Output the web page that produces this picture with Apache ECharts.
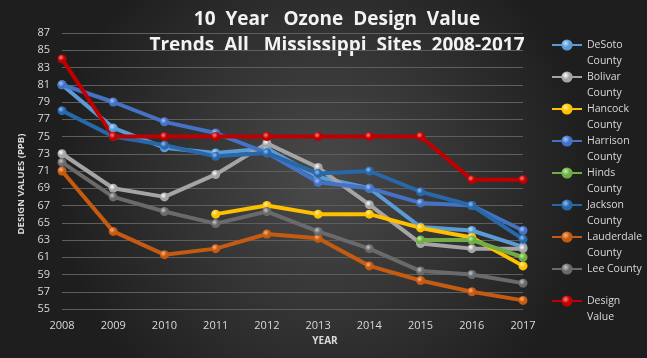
<!DOCTYPE html>
<html>
<head>
<meta charset="utf-8">
<script src="https://cdn.jsdelivr.net/npm/echarts@6/dist/echarts.min.js"></script>
<style>
html,body{margin:0;padding:0;background:#2a2a2a;}
#c{width:647px;height:358px;}
</style>
</head>
<body>
<div id="c"></div>
<script>
const years = ['2008','2009','2010','2011','2012','2013','2014','2015','2016','2017'];
const desoto     = [81, 76, 73.7, 73.1, 73.6, 70.3, 69, 64.5, 64.1, 62.2];
const bolivar    = [73, 69, 68, 70.6, 74.2, 71.4, 67.1, 62.6, 62, 62];
const hancock    = [null, null, null, 66, 67, 66, 66, 64.4, 63.3, 60];
const harrison   = [81, 79, 76.7, 75.4, 73.1, 69.7, 69, 67.3, 67, 64.1];
const hinds      = [null, null, null, null, null, null, null, 63, 63, 61];
const jackson    = [78, 75, 74, 72.7, 73.1, 70.7, 71, 68.6, 67, 63.1];
const lauderdale = [71, 64, 61.3, 62, 63.7, 63.2, 60, 58.3, 57, 56];
const lee        = [72, 68, 66.3, 64.9, 66.3, 64, 62, 59.4, 59, 58];
const designValue= [84, 75, 75, 75, 75, 75, 75, 75, 70, 70];

const seriesDefs = [
  {name:'DeSoto County', data:desoto, color:'#5b9bd5', hi:'#bfe0ff'},
  {name:'Bolivar County', data:bolivar, color:'#a5a5a5', hi:'#ffffff'},
  {name:'Hancock County', data:hancock, color:'#ffc000', hi:'#fff3a0'},
  {name:'Harrison County', data:harrison, color:'#4472c4', hi:'#a9c4ff'},
  {name:'Hinds County', data:hinds, color:'#70ad47', hi:'#c4f0a4'},
  {name:'Jackson County', data:jackson, color:'#2867a8', hi:'#8fbfff'},
  {name:'Lauderdale County', data:lauderdale, color:'#c55a11', hi:'#ffb37a'},
  {name:'Lee County', data:lee, color:'#6a6a6a', hi:'#c8c8c8'},
  {name:'Design Value', data:designValue, color:'#c00000', hi:'#ff8080'}
];
const legendLabels = {
  'DeSoto County':'\nDeSoto\nCounty',
  'Bolivar County':'\nBolivar\nCounty',
  'Hancock County':'\nHancock\nCounty',
  'Harrison County':'\nHarrison\nCounty',
  'Hinds County':'\nHinds\nCounty',
  'Jackson County':'\nJackson\nCounty',
  'Lauderdale County':'\nLauderdale\nCounty',
  'Lee County':'\nLee County\n ',
  'Design Value':'\nDesign\nValue'
};

const FONT = '"Open Sans", "Noto Sans", sans-serif';

const chart = echarts.init(document.getElementById('c'), null, {renderer:'canvas'});
chart.setOption({
  animation:false,
  backgroundColor:{
    type:'radial', x:0.5, y:0.5, r:0.75,
    colorStops:[{offset:0,color:'#4a4a4a'},{offset:1,color:'#1e1e1e'}]
  },
  grid:{left:62, right:124, top:33, bottom:49, containLabel:false},
  graphic:[
    {type:'text', style:{text:'10  Year   Ozone  Design  Value', fill:'#f2f2f2', font:'bold 19px '+FONT, align:'center', verticalAlign:'middle'}, position:[337,20]},
    {type:'text', style:{text:'Trends  All   Mississippi  Sites  2008-2017', fill:'#f2f2f2', font:'bold 19px '+FONT, align:'center', verticalAlign:'middle'}, position:[337,46]},
    {type:'text', style:{text:'YEAR', fill:'#d9d9d9', font:'bold 10px '+FONT, align:'center', verticalAlign:'middle'}, position:[325,341]},
    {type:'text', rotation:Math.PI/2, style:{text:'DESIGN VALUES (PPB)', fill:'#d9d9d9', font:'bold 9.5px '+FONT, align:'center', verticalAlign:'middle'}, position:[21,184]}
  ],
  legend:{
    orient:'vertical', left:551, top:21, padding:0,
    itemWidth:30, itemHeight:14, itemGap:-16,
    data: seriesDefs.map(s=>s.name),
    formatter: n => legendLabels[n],
    textStyle:{color:'#d9d9d9', fontSize:10.5, lineHeight:16, fontFamily:FONT},
    selectedMode:false
  },
  xAxis:{
    type:'category', data:years, boundaryGap:false,
    axisLine:{show:false}, axisTick:{show:false},
    axisLabel:{color:'#d9d9d9', fontSize:11, fontFamily:FONT, margin:11}
  },
  yAxis:{
    type:'value', min:55, max:87, interval:2,
    axisLine:{show:false}, axisTick:{show:false},
    axisLabel:{color:'#d9d9d9', fontSize:11, fontFamily:FONT, margin:12},
    splitLine:{lineStyle:{color:'#5e5e5e', width:1}}
  },
  series: seriesDefs.map(s=>({
    name:s.name, type:'line', data:s.data,
    symbol:'circle', symbolSize:9, showSymbol:true,
    connectNulls:false,
    lineStyle:{color:s.color, width:4},
    itemStyle:{
      color:{type:'radial', x:0.38, y:0.35, r:0.65,
        colorStops:[{offset:0,color:s.hi},{offset:0.55,color:s.color},{offset:1,color:s.color}]},
      borderWidth:0
    },
    emphasis:{disabled:true}
  }))
});
</script>
</body>
</html>
